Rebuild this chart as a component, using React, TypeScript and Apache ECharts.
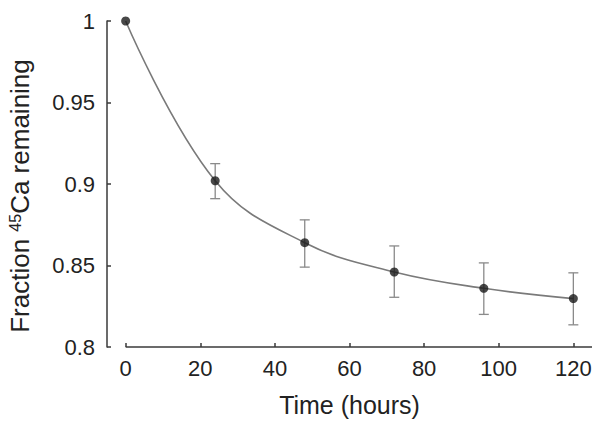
import React, { useEffect, useRef } from "react";
import * as echarts from "echarts";

const times = [0, 24, 48, 72, 96, 120];
const fraction = [1.0, 0.902, 0.864, 0.846, 0.836, 0.8297];
const errLow = [1.0, 0.891, 0.849, 0.8305, 0.82, 0.8136];
const errHigh = [1.0, 0.9125, 0.878, 0.862, 0.8516, 0.8455];
const xTicks = [0, 20, 40, 60, 80, 100, 120];

const FONT = "'Liberation Sans', Arial, Helvetica, sans-serif";
const AXIS = "#3a3a3a";

export default function App() {
  const ref = useRef<HTMLDivElement>(null);
  useEffect(() => {
    if (!ref.current) return;
    const chart = echarts.init(ref.current, null, { renderer: "svg" });
    const points = times.map((t, i) => [t, fraction[i]]);
    const bars = times
      .map((t, i) => [t, errLow[i], errHigh[i]])
      .filter((d) => d[2] - d[1] > 0);
    chart.setOption({
      animation: false,
      backgroundColor: "#ffffff",
      textStyle: { fontFamily: FONT },
      grid: { left: 107, right: 10, top: 21, bottom: 83, containLabel: false, outerBoundsMode: "none" },
      xAxis: {
        type: "value",
        min: -5,
        max: 125,
        name: "Time (hours)",
        nameLocation: "middle",
        nameGap: 45,
        nameTextStyle: { fontSize: 25, color: "#222", fontFamily: FONT },
        axisLine: { show: false, onZero: false },
        axisTick: { show: true, inside: true, length: 4, customValues: xTicks, lineStyle: { color: AXIS, width: 1.5 } },
        axisLabel: { customValues: xTicks, fontSize: 22, color: "#222", margin: 10, fontFamily: FONT },
        splitLine: { show: false },
      },
      yAxis: {
        type: "value",
        min: 0.8,
        max: 1,
        interval: 0.05,
        name: "Fraction {sup|45}Ca remaining",
        nameLocation: "middle",
        nameGap: 74,
        nameTextStyle: {
          fontSize: 26, color: "#222", fontFamily: FONT, padding: [0, 24, 0, 0],
          rich: { sup: { fontSize: 16, verticalAlign: "top", color: "#222", fontFamily: FONT, padding: [0, 0, 8, 0] } },
        },
        axisLine: { show: true, onZero: false, lineStyle: { color: AXIS, width: 1.5 } },
        axisTick: { show: true, inside: true, length: 4, lineStyle: { color: AXIS, width: 1.5 } },
        axisLabel: { fontSize: 22, color: "#222", margin: 12, fontFamily: FONT },
        splitLine: { show: false },
      },
      series: [
        {
          type: "custom", z: 1, data: bars,
          renderItem: (params: any, api: any) => {
            const x = api.value(0);
            const lo = api.coord([x, api.value(1)]);
            const hi = api.coord([x, api.value(2)]);
            const w = 5;
            const style = { stroke: "#8a8a8a", lineWidth: 1.3 };
            return { type: "group", children: [
              { type: "line", shape: { x1: lo[0], y1: lo[1], x2: hi[0], y2: hi[1] }, style },
              { type: "line", shape: { x1: lo[0] - w, y1: lo[1], x2: lo[0] + w, y2: lo[1] }, style },
              { type: "line", shape: { x1: hi[0] - w, y1: hi[1], x2: hi[0] + w, y2: hi[1] }, style },
            ] };
          },
        },
        {
          type: "line", z: 2, data: points, smooth: 0.4, showSymbol: false,
          lineStyle: { color: "#7a7a7a", width: 1.6 },
          markLine: { silent: true, symbol: "none", label: { show: false },
            lineStyle: { color: AXIS, width: 1.5, type: "solid" },
            data: [[{ coord: [0, 0.8] }, { coord: [125, 0.8] }]] },
        },
        { type: "scatter", z: 3, data: points, symbol: "circle", symbolSize: 9, itemStyle: { color: "#1a1a1a" } },
      ],
    });
    return () => chart.dispose();
  }, []);
  return <div ref={ref} style={{ position: "fixed", left: 0, top: 0, width: 602, height: 430 }} />;
}
